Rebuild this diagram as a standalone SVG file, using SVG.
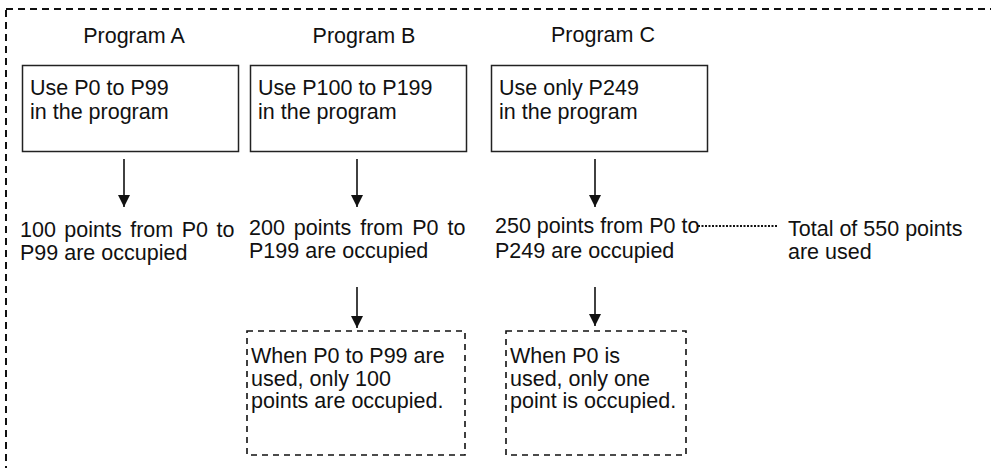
<svg xmlns="http://www.w3.org/2000/svg" width="991" height="468" viewBox="0 0 991 468">
<style>
text{font-family:"Liberation Sans",Arial,sans-serif;font-size:21.5px;fill:#111}
.box{fill:#fff;stroke:#222;stroke-width:1.5}
.dbox{fill:#fff;stroke:#111;stroke-width:1.6;stroke-dasharray:6 5}
.outer{fill:none;stroke:#111;stroke-width:2;stroke-dasharray:7 5}
.arrow{stroke:#111;stroke-width:1.6;fill:none;marker-end:url(#ah)}
.dot{stroke:#111;stroke-width:2;stroke-dasharray:2 1.5;fill:none}
</style>
<defs>
<marker id="ah" markerUnits="userSpaceOnUse" markerWidth="12" markerHeight="12" viewBox="0 0 12 12" refX="12" refY="6" orient="auto">
<path d="M0,0 L12,6 L0,12 Z" fill="#111"/>
</marker>
</defs>
<rect class="outer" x="6" y="9" width="1000" height="480"/>

<g id="titleA"><text x="134" y="43" text-anchor="middle">Program A</text></g>
<g id="titleB"><text x="364" y="43" text-anchor="middle">Program B</text></g>
<g id="titleC"><text x="603" y="42" text-anchor="middle">Program C</text></g>

<g id="boxA"><rect class="box" x="22.5" y="65.5" width="216" height="86"/>
<text x="30" y="95">Use P0 to P99</text><text x="30" y="119">in the program</text></g>
<g id="boxB"><rect class="box" x="250.5" y="65.5" width="216" height="86"/>
<text x="258" y="95">Use P100 to P199</text><text x="258" y="119">in the program</text></g>
<g id="boxC"><rect class="box" x="491.5" y="65.5" width="216" height="86"/>
<text x="499" y="95">Use only P249</text><text x="499" y="119">in the program</text></g>

<g id="resA"><text x="20" y="237" word-spacing="2.5">100 points from P0 to</text><text x="20" y="260">P99 are occupied</text></g>
<g id="resB"><text x="249" y="235" word-spacing="3">200 points from P0 to</text><text x="249" y="258">P199 are occupied</text></g>
<g id="resC"><text x="495" y="233">250 points from P0 to</text><text x="495" y="258">P249 are occupied</text></g>
<g id="total"><text x="788" y="236">Total of 550 points</text><text x="788" y="259">are used</text></g>

<g id="noteB"><rect class="dbox" x="247" y="331" width="218" height="124"/>
<text x="251" y="363">When P0 to P99 are</text><text x="251" y="386">used, only 100</text><text x="251" y="408">points are occupied.</text></g>
<g id="noteC"><rect class="dbox" x="506" y="331" width="180" height="124"/>
<text x="510" y="363">When P0 is</text><text x="510" y="386">used, only one</text><text x="510" y="408">point is occupied.</text></g>

<g id="connectors">
<line class="arrow" x1="124" y1="159" x2="124" y2="207"/>
<line class="arrow" x1="357" y1="159" x2="357" y2="207"/>
<line class="arrow" x1="595" y1="159" x2="595" y2="207"/>
<line class="arrow" x1="357" y1="287" x2="357" y2="328"/>
<line class="arrow" x1="595" y1="287" x2="595" y2="326"/>
<line class="dot" x1="698" y1="226" x2="778" y2="226"/>
</g>
</svg>
